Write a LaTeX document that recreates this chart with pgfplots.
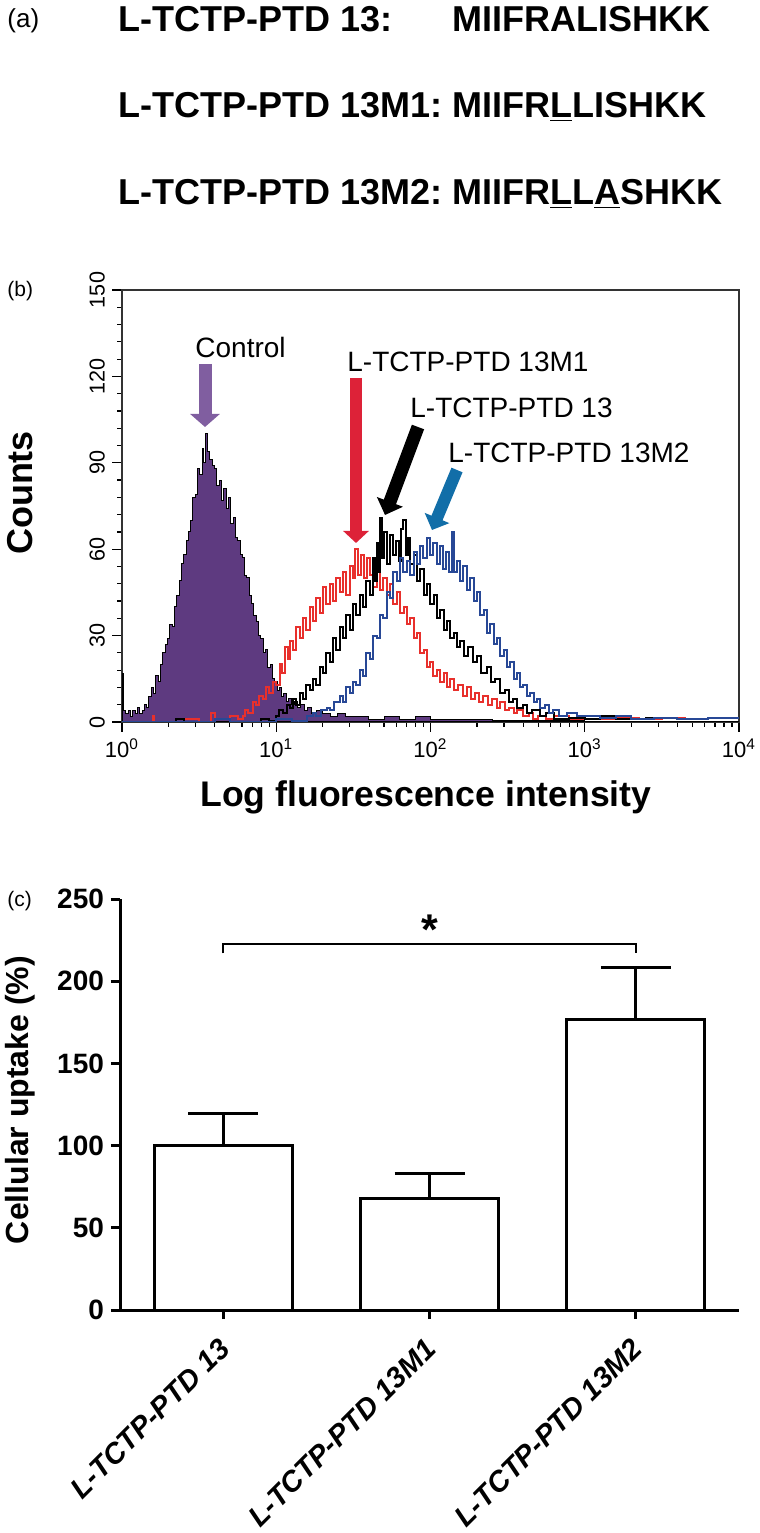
\documentclass[border=0pt]{standalone}
\usepackage{fontspec}
\setmainfont{Liberation Sans}
\usepackage{pgfplots}
\pgfplotsset{compat=1.18}
\usetikzlibrary{arrows.meta}

\definecolor{ctrlfill}{RGB}{94,58,128}
\definecolor{ctrlarrow}{RGB}{128,94,160}
\definecolor{redarrow}{RGB}{221,34,56}
\definecolor{redline}{RGB}{232,48,44}
\definecolor{bluearrow}{RGB}{18,110,168}
\definecolor{blueline}{RGB}{40,72,150}

% histogram traces, x in log10 units
\pgfplotstableread{
lx n
0.000 17
0.008 4
0.025 3
0.040 4
0.055 2
0.070 4
0.085 3
0.100 5
0.115 3
0.130 4
0.145 6
0.160 5
0.175 9
0.190 12
0.205 10
0.220 16
0.235 14
0.250 20
0.265 24
0.280 27
0.295 29
0.310 34
0.325 33
0.340 40
0.355 44
0.370 49
0.385 55
0.400 58
0.415 63
0.430 66
0.445 70
0.460 78
0.475 79
0.490 88
0.505 86
0.520 95
0.530 90
0.540 100
0.555 94
0.570 91
0.585 89
0.600 88
0.615 82
0.630 84
0.645 77
0.660 81
0.675 74
0.690 78
0.705 69
0.720 71
0.735 64
0.750 63
0.765 58
0.780 57
0.795 51
0.810 50
0.825 44
0.840 41
0.855 37
0.870 35
0.885 30
0.900 29
0.915 24
0.930 25
0.945 19
0.960 20
0.975 15
0.990 14
1.005 11
1.020 12
1.035 9
1.050 10
1.065 7
1.080 8
1.100 6
1.120 7
1.140 5
1.160 6
1.180 4
1.200 5
1.230 3
1.260 4
1.300 3
1.350 2
1.400 3
1.450 2
1.500 2
1.600 1
1.700 2
1.800 1
1.900 2
2.000 1
2.200 1
2.400 0.5
2.700 0.5
3.000 0.3
3.500 0.3
4.000 0
}\ctrldata

\pgfplotstableread{
lx n
0.000 0
0.150 0
0.200 2
0.210 0
0.400 1
0.500 0
0.580 3
0.600 1
0.700 2
0.750 1
0.784 2
0.800 4
0.820 3
0.849 7
0.870 6
0.890 9
0.914 8
0.935 12
0.955 10
0.979 14
1.000 13
1.024 20
1.040 17
1.057 26
1.075 22
1.090 28
1.109 25
1.130 33
1.154 29
1.175 36
1.195 32
1.219 40
1.240 35
1.260 43
1.284 38
1.305 47
1.325 41
1.349 48
1.370 42
1.390 50
1.413 45
1.435 52
1.455 44
1.478 54
1.495 50
1.511 60
1.530 51
1.550 58
1.570 50
1.588 57
1.610 51
1.630 47
1.653 54
1.675 46
1.695 50
1.718 44
1.740 48
1.760 41
1.783 45
1.805 38
1.825 40
1.848 34
1.870 36
1.890 29
1.912 31
1.935 24
1.955 25
1.975 19
2.000 21
2.016 16
2.040 18
2.060 14
2.085 17
2.110 12
2.126 15
2.150 11
2.180 13
2.210 9
2.237 12
2.265 8
2.290 10
2.315 7
2.340 9
2.370 6
2.400 8
2.430 5
2.451 7
2.480 4
2.510 5
2.540 3
2.561 4
2.600 2
2.640 3
2.665 1
2.700 2
2.750 1
2.800 2
2.900 1
3.000 2
3.100 1
3.200 1.5
3.350 1
3.500 1.5
3.650 1
3.800 1.5
4.000 1
}\mone

\pgfplotstableread{
lx n
0.000 0
0.300 0
0.350 1
0.400 0
0.900 1
0.950 0.5
1.000 2
1.020 4
1.044 3
1.070 6
1.090 5
1.110 8
1.130 6
1.154 10
1.175 8
1.195 13
1.219 11
1.240 15
1.260 13
1.284 19
1.305 17
1.325 24
1.349 21
1.370 29
1.390 25
1.413 33
1.435 29
1.455 37
1.478 32
1.500 41
1.520 37
1.543 44
1.565 40
1.585 49
1.608 44
1.625 57
1.640 49
1.653 62
1.665 52
1.673 71
1.685 57
1.700 66
1.715 55
1.737 65
1.755 58
1.775 63
1.795 56
1.810 67
1.822 70
1.840 58
1.855 64
1.867 55
1.890 58
1.910 49
1.932 53
1.955 44
1.975 48
1.997 41
2.020 44
2.040 36
2.062 39
2.085 32
2.105 35
2.126 29
2.150 31
2.170 26
2.191 28
2.215 23
2.240 26
2.276 21
2.300 23
2.330 17
2.366 19
2.390 14
2.420 15
2.451 10
2.480 11
2.510 7
2.535 8
2.560 5
2.600 6
2.626 3
2.660 4
2.710 2
2.750 3
2.800 1
2.900 1.5
3.000 1
3.100 2
3.200 1
3.400 1.5
3.600 1
3.800 1.5
4.000 1
}\wild

\pgfplotstableread{
lx n
0.000 0
0.500 0
0.600 1
0.700 0
1.000 1
1.100 0.5
1.200 2
1.238 3
1.260 2
1.290 4
1.329 5
1.350 4
1.375 7
1.413 9
1.435 7
1.455 12
1.478 10
1.498 14
1.520 13
1.540 18
1.562 16
1.585 24
1.608 22
1.630 30
1.653 29
1.673 37
1.695 36
1.715 45
1.737 43
1.760 52
1.780 49
1.802 57
1.822 52
1.845 56
1.867 51
1.890 59
1.910 55
1.930 61
1.951 57
1.975 64
1.995 58
2.016 62
2.040 55
2.060 61
2.081 53
2.100 59
2.120 52
2.139 66
2.155 52
2.175 56
2.191 49
2.210 54
2.235 46
2.256 50
2.280 42
2.300 45
2.321 37
2.345 39
2.365 31
2.386 34
2.410 27
2.430 29
2.451 23
2.475 25
2.495 19
2.515 21
2.540 15
2.560 17
2.580 12
2.600 13
2.625 9
2.645 10
2.670 7
2.690 8
2.710 5
2.740 6
2.770 3
2.794 4
2.830 2
2.885 3
2.950 2
3.000 2
3.100 1.5
3.200 2
3.300 1
3.450 1.5
3.600 1
3.800 1.5
4.000 1
}\mtwo

\pgfplotstableread{
x y e
0 100 19.5
1 68 15
2 177 31.5
}\uptake

\begin{document}
\begin{tikzpicture}[x=0.5pt,y=0.5pt]
\useasboundingbox (0,0) rectangle (760,1533);

% ---- panel (a): sequences
\node[anchor=base west,inner sep=0,font=\fontsize{13}{13}\selectfont] at (7,1505) {(a)};
\begin{scope}[every node/.style={anchor=base west,inner sep=0,font=\bfseries\fontsize{18}{18}\selectfont}]
\node at (118,1501) {L-TCTP-PTD 13:};
\node at (118,1415) {L-TCTP-PTD 13M1:};
\node at (118,1328) {L-TCTP-PTD 13M2:};
\node at (452,1501) {MIIFRALISHKK};
\node at (452,1415) {MIIFR\underline{L}LISHKK};
\node at (452,1328) {MIIFR\underline{L}L\underline{A}SHKK};
\end{scope}

% ---- panel (b): flow histograms
\node[anchor=base west,inner sep=0,font=\fontsize{10.5}{10.5}\selectfont] at (7,1236) {(b)};
\begin{axis}[
  at={(61pt,405.5pt)}, anchor=south west,
  scale only axis, width=308.5pt, height=216pt,
  xmin=0, xmax=4, ymin=0, ymax=150,
  axis line style={draw=black!80, line width=0.6pt},
  tick align=outside, tick pos=left,
  xtick={0,1,2,3,4},
  xticklabels={10\textsuperscript{0},10\textsuperscript{1},10\textsuperscript{2},10\textsuperscript{3},10\textsuperscript{4}},
  minor xtick={0.301,0.477,0.602,0.699,0.778,0.845,0.903,0.954,
    1.301,1.477,1.602,1.699,1.778,1.845,1.903,1.954,
    2.301,2.477,2.602,2.699,2.778,2.845,2.903,2.954,
    3.301,3.477,3.602,3.699,3.778,3.845,3.903,3.954},
  ytick={0,30,60,90,120,150}, minor y tick num=4,
  major tick length=5pt, minor tick length=2.5pt,
  every tick/.style={black, line width=0.6pt},
  yticklabel style={rotate=90, anchor=south, font=\fontsize{10.8}{11}\selectfont},
  xticklabel style={font=\fontsize{11}{11}\selectfont},
  /pgf/number format/assume math mode=true,
]
\addplot[const plot, fill=ctrlfill, draw=black, line width=0.5pt] table[x=lx,y=n] {\ctrldata} \closedcycle;
\addplot[const plot, redline, line width=1pt] table[x=lx,y=n] {\mone};
\addplot[const plot, black, line width=1pt] table[x=lx,y=n] {\wild};
\addplot[const plot, blueline, line width=1pt] table[x=lx,y=n] {\mtwo};
\end{axis}

% arrows and names
\draw[ctrlarrow, line width=6.5pt, -{Triangle[width=14.5pt,length=6.5pt]}] (205,1169) -- (205,1106);
\draw[redarrow, line width=6pt, -{Triangle[width=12.5pt,length=6pt]}] (356,1155) -- (356,990);
\draw[black, line width=6.5pt, -{Triangle[width=13.5pt,length=7pt]}] (418,1106) -- (385,1018);
\draw[bluearrow, line width=6pt, -{Triangle[width=13pt,length=6.5pt]}] (457,1063) -- (432,1003);
\begin{scope}[every node/.style={anchor=base west,inner sep=0,font=\fontsize{14}{14}\selectfont}]
\node at (195,1175) {Control};
\node at (347,1161) {L-TCTP-PTD 13M1};
\node at (410,1115) {L-TCTP-PTD 13};
\node at (448,1070) {L-TCTP-PTD 13M2};
\end{scope}
\node[rotate=90,inner sep=0,font=\bfseries\fontsize{18}{18}\selectfont] at (20,1040) {Counts};
\node[anchor=base,inner sep=0,font=\bfseries\fontsize{17.8}{18}\selectfont] at (426,726) {Log fluorescence intensity};

% ---- panel (c): uptake bars
\node[anchor=base west,inner sep=0,font=\fontsize{10.5}{10.5}\selectfont] at (7,626) {(c)};
\begin{axis}[
  at={(60pt,111.5pt)}, anchor=south west,
  scale only axis, width=309.5pt, height=205.5pt,
  xmin=-0.5, xmax=2.5, ymin=0, ymax=250,
  axis lines=left, axis line style={-, line width=1.5pt},
  ybar, bar width=69pt,
  xtick={0,1,2},
  xticklabels={L-TCTP-PTD 13,L-TCTP-PTD 13M1,L-TCTP-PTD 13M2},
  ytick={0,50,...,250},
  tick align=outside, major tick length=4.5pt,
  every tick/.style={black, line width=1.5pt},
  xticklabel style={xshift=-3pt, yshift=-8.5pt, rotate=45, anchor=north east, inner sep=0pt,
    font=\bfseries\itshape\fontsize{14.5}{15}\selectfont},
  yticklabel style={font=\bfseries\fontsize{14}{14}\selectfont},
  /pgf/number format/assume math mode=true,
  clip=false,
]
\addplot[fill=white, draw=black, line width=1.5pt,
  error bars/.cd, y dir=plus, y explicit,
  error bar style={line width=1.5pt},
  error mark options={rotate=90, mark size=17.5pt, line width=1.5pt}]
  table[x=x,y=y,y error=e] {\uptake};
\draw[line width=1.3pt] (axis cs:0,217) -- (axis cs:0,222.6) -- (axis cs:2,222.6) -- (axis cs:2,217);
\node[anchor=base,inner sep=0,font=\bfseries\fontsize{21.5}{22}\selectfont] at (axis cs:1,222.6) {*};
\end{axis}
\node[rotate=90,inner sep=0,font=\bfseries\fontsize{16}{16}\selectfont] at (20,433) {Cellular uptake (\%)};

\end{tikzpicture}
\end{document}
